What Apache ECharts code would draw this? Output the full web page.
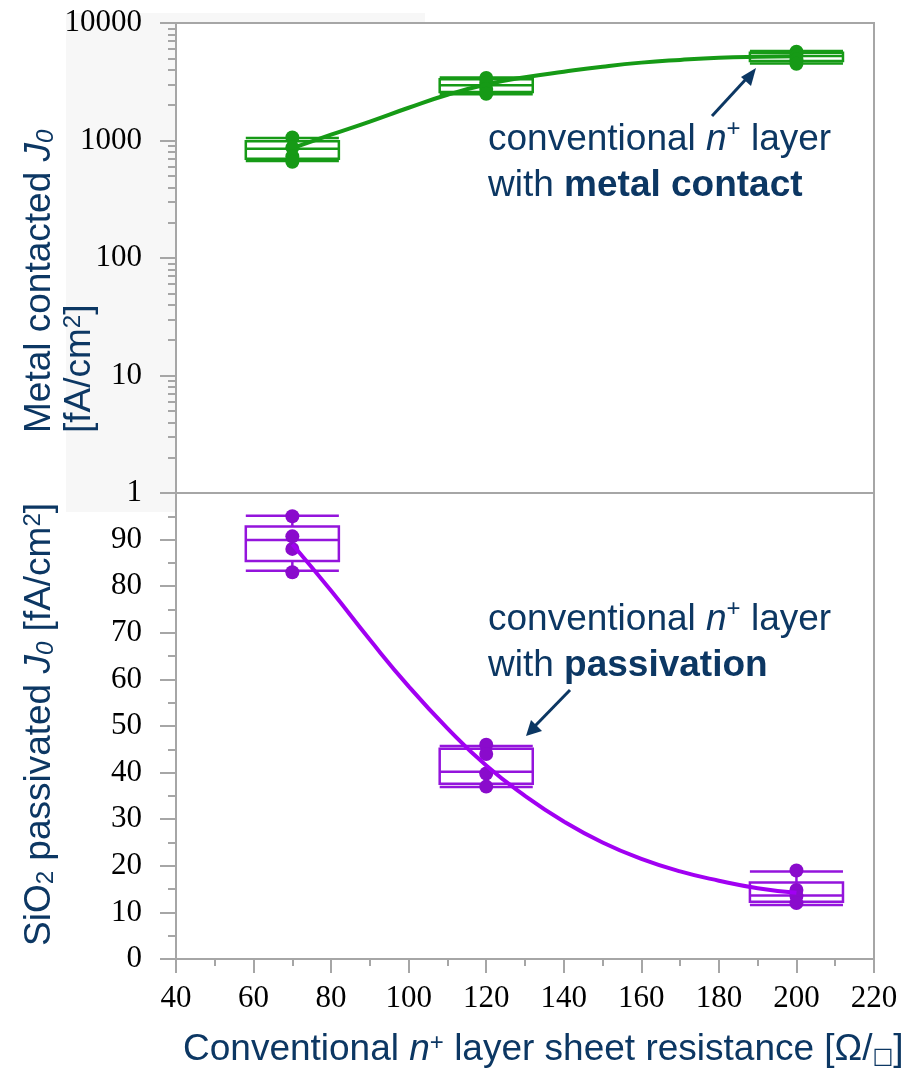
<!DOCTYPE html>
<html><head><meta charset="utf-8">
<script src="https://cdn.jsdelivr.net/npm/echarts@6/dist/echarts.min.js"></script>
<style>html,body{margin:0;padding:0;background:#fff}#c{width:912px;height:1072px}</style>
</head><body><div id="c"></div>
<script>
// ---- data ----
const xTickValues = [40, 60, 80, 100, 120, 140, 160, 180, 200, 220];
const topTickLabels = [1, 10, 100, 1000, 10000];
const topMinorTicks = [2,3,4,5,6,7,8,9,20,30,40,50,60,70,80,90,200,300,400,500,600,700,800,900,2000,3000,4000,5000,6000,7000,8000,9000];
const bottomTickLabels = [0, 10, 20, 30, 40, 50, 60, 70, 80, 90];
// boxes: [x, min, Q1, median, Q3, max]
const metalBoxes = [
  [70, 670, 700, 850, 985, 1050],
  [120, 2470, 2590, 2950, 3320, 3430],
  [200, 4530, 4760, 5250, 5570, 5770]
];
const metalPoints = [
  [70, 1060], [70, 870], [70, 730], [70, 660],
  [120, 3400], [120, 3100], [120, 2750], [120, 2500],
  [200, 5700], [200, 5300], [200, 4900], [200, 4500]
];
const metalCurve = [
  [70, 860], [80, 1120], [90, 1450], [100, 1900], [110, 2450], [120, 3000], [130, 3450],
  [140, 3850], [150, 4250], [160, 4600], [170, 4850], [180, 5050], [190, 5150], [200, 5200]
];
const passBoxes = [
  [70, 83.3, 85.4, 89.9, 92.8, 95.1],
  [120, 36.9, 37.6, 40.2, 45.1, 45.7],
  [200, 11.6, 12.3, 13.6, 16.4, 18.8]
];
const passPoints = [
  [70, 95], [70, 90.7], [70, 88], [70, 83],
  [120, 46], [120, 44], [120, 39.8], [120, 37],
  [200, 19], [200, 14.8], [200, 13.5], [200, 12]
];
const passCurve = [
  [70, 89], [80, 79], [90, 68.5], [100, 58.5], [110, 49.5], [120, 41.5], [130, 35],
  [140, 29.5], [150, 25], [160, 21.5], [170, 18.8], [180, 16.8], [190, 15.2], [200, 14.2]
];
const boxHalfWidth = 12;

// ---- styles ----
const GREEN = '#169a16';
const PURPLE_LINE = '#a100f2';
const PURPLE_BOX = '#9414dc';
const PURPLE_DOT = '#8a0bcc';
const NAVY = '#0c3763';
const AXIS = '#a6a6a6';
const SERIF = '"Liberation Serif", "DejaVu Serif", serif';
const SANS = '"Liberation Sans", Arial, sans-serif';
const FS = 37, FSS = 24;

function boxRenderer(color) {
  return function (params, api) {
    const x = api.value(0);
    const lo = api.value(1), q1 = api.value(2), med = api.value(3), q3 = api.value(4), hi = api.value(5);
    const xl = api.coord([x - boxHalfWidth, q1])[0];
    const xr = api.coord([x + boxHalfWidth, q1])[0];
    const xc = api.coord([x, q1])[0];
    const yLo = api.coord([x, lo])[1], yQ1 = api.coord([x, q1])[1], yMed = api.coord([x, med])[1];
    const yQ3 = api.coord([x, q3])[1], yHi = api.coord([x, hi])[1];
    const st = { stroke: color, lineWidth: 2.5, fill: null };
    return {
      type: 'group',
      children: [
        { type: 'rect', shape: { x: xl, y: yQ3, width: xr - xl, height: yQ1 - yQ3 }, style: st },
        { type: 'line', shape: { x1: xl, y1: yMed, x2: xr, y2: yMed }, style: st },
        { type: 'line', shape: { x1: xl, y1: yHi, x2: xr, y2: yHi }, style: st },
        { type: 'line', shape: { x1: xl, y1: yLo, x2: xr, y2: yLo }, style: st },
        { type: 'line', shape: { x1: xc, y1: yHi, x2: xc, y2: yQ3 }, style: st },
        { type: 'line', shape: { x1: xc, y1: yQ1, x2: xc, y2: yLo }, style: st }
      ]
    };
  };
}

const chart = echarts.init(document.getElementById('c'), null, { renderer: 'canvas' });

const commonX = { type: 'value', min: 40, max: 220, interval: 20 };

function richBase(extra) {
  return Object.assign({
    a: { fontFamily: SANS, fontSize: FS, fill: NAVY },
    i: { fontFamily: SANS, fontStyle: 'italic', fontSize: FS, fill: NAVY },
    b: { fontFamily: SANS, fontWeight: 'bold', fontSize: FS, fill: NAVY },
    sub: { fontFamily: SANS, fontStyle: 'italic', fontSize: FSS, fill: NAVY, verticalAlign: 'bottom', padding: [12, 0, 0, 0] },
    sub2: { fontFamily: SANS, fontSize: FSS, fill: NAVY, verticalAlign: 'bottom', padding: [12, 0, 0, 0] },
    sup: { fontFamily: SANS, fontSize: FSS, fill: NAVY, verticalAlign: 'top', padding: [0, 0, 12, 0] }
  }, extra || {});
}

const option = {
  animation: false,
  backgroundColor: '#fff',
  grid: [
    { left: 176, right: 38, top: 23, height: 470, show: true, backgroundColor: '#fff', borderColor: AXIS, borderWidth: 2, z: 1 },
    { left: 176, right: 38, top: 493, height: 466, show: true, backgroundColor: '#fff', borderColor: AXIS, borderWidth: 2, z: 1 }
  ],
  xAxis: [
    Object.assign({}, commonX, {
      gridIndex: 0, axisLine: { show: false }, axisTick: { show: false }, axisLabel: { show: false }, splitLine: { show: false }
    }),
    Object.assign({}, commonX, {
      gridIndex: 1,
      axisLine: { show: true, lineStyle: { color: AXIS, width: 2 } },
      axisTick: { show: true, length: 14, lineStyle: { color: AXIS, width: 2 } },
      minorTick: { show: true, splitNumber: 2, length: 7, lineStyle: { color: AXIS, width: 2 } },
      axisLabel: { show: true, margin: 24, fontFamily: SERIF, fontSize: 31, color: '#000', customValues: xTickValues },
      splitLine: { show: false }
    })
  ],
  yAxis: [
    {
      type: 'log', logBase: 10, min: 1, max: 10000, gridIndex: 0, position: 'left',
      axisLine: { show: true, lineStyle: { color: AXIS, width: 2 } },
      axisTick: { show: true, length: 16, lineStyle: { color: AXIS, width: 2 }, customValues: topTickLabels },
      axisLabel: { show: true, margin: 34, fontFamily: SERIF, fontSize: 31, color: '#000', customValues: topTickLabels,
        formatter: function (v) { return String(Math.round(v)); } },
      splitLine: { show: false }
    },
    {
      type: 'log', logBase: 10, min: 1, max: 10000, gridIndex: 0, position: 'left', offset: 0,
      axisLine: { show: false },
      axisTick: { show: true, length: 8, lineStyle: { color: AXIS, width: 2 }, customValues: topMinorTicks },
      axisLabel: { show: false },
      splitLine: { show: false }
    },
    {
      type: 'value', min: 0, max: 100, interval: 10, gridIndex: 1,
      axisLine: { show: true, lineStyle: { color: AXIS, width: 2 } },
      axisTick: { show: true, length: 16, lineStyle: { color: AXIS, width: 2 } },
      minorTick: { show: true, splitNumber: 2, length: 8, lineStyle: { color: AXIS, width: 2 } },
      axisLabel: { show: true, margin: 34, fontFamily: SERIF, fontSize: 31, color: '#000', customValues: bottomTickLabels },
      splitLine: { show: false }
    }
  ],
  series: [
    { type: 'custom', xAxisIndex: 0, yAxisIndex: 0, renderItem: boxRenderer(GREEN), data: metalBoxes, z: 3,
      encode: { x: 0, y: [1, 2, 3, 4, 5] } },
    { type: 'line', xAxisIndex: 0, yAxisIndex: 0, data: metalCurve, smooth: true, showSymbol: false, symbol: 'none',
      lineStyle: { color: GREEN, width: 4 }, z: 4 },
    { type: 'scatter', xAxisIndex: 0, yAxisIndex: 0, data: metalPoints, symbolSize: 14,
      itemStyle: { color: GREEN, opacity: 1 }, z: 5 },
    { type: 'custom', xAxisIndex: 1, yAxisIndex: 2, renderItem: boxRenderer(PURPLE_BOX), data: passBoxes, z: 3,
      encode: { x: 0, y: [1, 2, 3, 4, 5] } },
    { type: 'scatter', xAxisIndex: 1, yAxisIndex: 2, data: passPoints, symbolSize: 14,
      itemStyle: { color: PURPLE_DOT, opacity: 1 }, z: 4 },
    { type: 'line', xAxisIndex: 1, yAxisIndex: 2, data: passCurve, smooth: true, showSymbol: false, symbol: 'none',
      lineStyle: { color: PURPLE_LINE, width: 4 }, z: 5 }
  ],
  graphic: [
    { type: 'rect', z: -100, silent: true, shape: { x: 66, y: 13, width: 359, height: 499 }, style: { fill: '#f7f7f7' } },
    // top y title
    { type: 'text', z: 100, x: 40, y: 433, rotation: Math.PI / 2,
      style: { text: '{a|Metal contacted }{i|J}{sub|0}', align: 'left', verticalAlign: 'middle', rich: richBase() } },
    { type: 'text', z: 100, x: 80, y: 433, rotation: Math.PI / 2,
      style: { text: '{a|[fA/cm}{sup|2}{a|]}', align: 'left', verticalAlign: 'middle', rich: richBase() } },
    // bottom y title
    { type: 'text', z: 100, x: 40, y: 946, rotation: Math.PI / 2,
      style: { text: '{a|SiO}{sub2|2}{a| passivated }{i|J}{sub|0}{a| [fA/cm}{sup|2}{a|]}', align: 'left', verticalAlign: 'middle', rich: richBase() } },
    // x title
    { type: 'text', z: 100, x: 183, y: 1050,
      style: { text: '{a|Conventional }{i|n}{sup|+}{a| layer sheet resistance [Ω/}{sq|□}{a|]}', align: 'left', verticalAlign: 'middle',
        rich: richBase({ sq: { fontFamily: '"DejaVu Sans", sans-serif', fontSize: 22, fill: NAVY, verticalAlign: 'bottom' } }) } },
    // annotations
    { type: 'text', z: 100, x: 488, y: 163,
      style: { text: '{a|conventional }{i|n}{sup|+}{a| layer}\n{a|with }{b|metal contact}', align: 'left', verticalAlign: 'middle',
        lineHeight: 46, rich: richBase() } },
    { type: 'text', z: 100, x: 488, y: 643,
      style: { text: '{a|conventional }{i|n}{sup|+}{a| layer}\n{a|with }{b|passivation}', align: 'left', verticalAlign: 'middle',
        lineHeight: 46, rich: richBase() } },
    // arrows
    { type: 'line', z: 100, shape: { x1: 712, y1: 116, x2: 747, y2: 78 }, style: { stroke: NAVY, lineWidth: 3 } },
    { type: 'polygon', z: 100, shape: { points: [[756, 68], [741, 77], [751, 86]] }, style: { fill: NAVY } },
    { type: 'line', z: 100, shape: { x1: 570, y1: 690, x2: 535, y2: 726 }, style: { stroke: NAVY, lineWidth: 3 } },
    { type: 'polygon', z: 100, shape: { points: [[526, 736], [531, 720], [542, 731]] }, style: { fill: NAVY } }
  ]
};
chart.setOption(option);
</script></body></html>
